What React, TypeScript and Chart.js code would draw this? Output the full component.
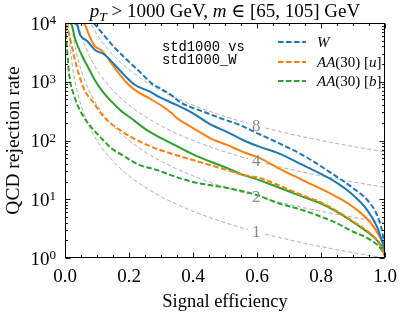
import React, { useEffect, useRef } from "react";
import { Chart, registerables } from "chart.js";

Chart.register(...registerables);

// ---- data (signal efficiency, QCD rejection) ----
const wDashEff = [0.09, 0.116, 0.147, 0.1875, 0.231, 0.272, 0.303, 0.334, 0.359, 0.4, 0.444, 0.484, 0.547, 0.6, 0.666, 0.744, 0.85, 0.9, 0.953, 0.975, 0.99, 1.0];
const wDashRej = [10000, 6760, 4250, 2530, 1520, 930, 740, 580, 452, 357, 294, 241, 183, 134, 91, 56, 24, 15.5, 8.6, 5.4, 3.0, 1.5];

const wSolidEff = [0.025, 0.0375, 0.047, 0.069, 0.094, 0.125, 0.156, 0.1875, 0.219, 0.2625, 0.297, 0.35, 0.4, 0.453, 0.506, 0.556, 0.609, 0.666, 0.744, 0.85, 0.9, 0.944, 0.975, 0.99, 1.0];
const wSolidRej = [10000, 9300, 6300, 4950, 3470, 2850, 1930, 1260, 880, 690, 540, 400, 290, 190, 140, 102, 78, 61, 38, 19, 11.8, 6.6, 3.4, 2.0, 1.37];

const uSolidEff = [0.056, 0.0625, 0.075, 0.09, 0.116, 0.14, 0.1625, 0.1875, 0.219, 0.2625, 0.303, 0.334, 0.35, 0.4, 0.453, 0.506, 0.556, 0.609, 0.666, 0.744, 0.85, 0.9, 0.953, 0.984, 1.0];
const uSolidRej = [10000, 9300, 6300, 4250, 3330, 2240, 1520, 1030, 720, 525, 387, 290, 240, 163, 110, 84, 64, 50, 34, 21, 10.9, 7.4, 4.1, 2.3, 1.5];

const uDashEff = [0.003, 0.009, 0.022, 0.031, 0.044, 0.0625, 0.09, 0.116, 0.131, 0.172, 0.2125, 0.256, 0.297, 0.4, 0.506, 0.556, 0.609, 0.666, 0.744, 0.797, 0.85, 0.9, 0.944, 0.975, 1.0];
const uDashRej = [10000, 7600, 3900, 2350, 1300, 695, 435, 272, 224, 150, 110, 84, 69, 46.5, 31.5, 26, 23, 17.5, 11.5, 9, 6.3, 4.2, 2.9, 2.0, 1.1];

const bSolidEff = [0.016, 0.022, 0.031, 0.053, 0.075, 0.094, 0.116, 0.147, 0.178, 0.209, 0.225, 0.256, 0.297, 0.35, 0.4, 0.453, 0.506, 0.556, 0.609, 0.666, 0.744, 0.797, 0.85, 0.9, 0.944, 0.975, 0.994, 1.0];
const bSolidRej = [10000, 9000, 5500, 2800, 1650, 1050, 700, 450, 310, 235, 200, 150, 112, 80, 58, 44, 34, 26, 21, 16, 11, 8.6, 6.1, 4.1, 2.8, 2.0, 1.4, 1.05];

const bDashEff = [0.001, 0.004, 0.0125, 0.031, 0.053, 0.084, 0.116, 0.147, 0.178, 0.194, 0.234, 0.2875, 0.328, 0.4, 0.506, 0.6, 0.666, 0.744, 0.85, 0.9, 0.944, 0.984, 1.0];
const bDashRej = [9000, 5500, 1410, 530, 283, 163, 106, 72, 57, 50, 38, 31.5, 26, 19.7, 15.6, 11.8, 8.6, 6.5, 3.9, 2.8, 2.2, 1.5, 1.1];

// iso-significance guides: rejection = (factor / efficiency)^2
const guideFactors = [1, 2, 4, 8];
const guideLabels = ["1", "2", "4", "8"];
const guideLabelEff = 0.598;
const guideGap = [0.572, 0.626];

// axis ticks and labels
const xMajor = [0, 0.2, 0.4, 0.6, 0.8, 1.0];
const xTickLabels = ["0.0", "0.2", "0.4", "0.6", "0.8", "1.0"];
const yDecades = [1, 10, 100, 1000, 10000];
const yExponents = ["0", "1", "2", "3", "4"];

const BLUE = "#1f77b4";
const ORANGE = "#ff7f0e";
const GREEN = "#2ca02c";
const GRAY = "rgba(120,120,120,0.8)";
const SERIF = '"Liberation Serif", "DejaVu Serif", serif';
const MONO = '"Liberation Mono", "DejaVu Sans Mono", monospace';
const DASH = [5.5, 2.5];

const pts = (xs: number[], ys: number[]) => xs.map((x, i) => ({ x, y: ys[i] }));

function guideEffSamples(): number[] {
  const s: number[] = [];
  for (let i = 1; i <= 400; i++) s.push(i / 400);
  s.push(guideGap[0], guideGap[1]);
  return Array.from(new Set(s)).sort((a, b) => a - b);
}

const decor = {
  id: "decor",
  afterDatasetsDraw(chart: any) {
    const { ctx, chartArea: a, scales } = chart;
    const x = scales.x, y = scales.y;
    ctx.save();

    // guide labels
    ctx.fillStyle = "#8a8a8a";
    ctx.font = `17px ${SERIF}`;
    ctx.textAlign = "center";
    ctx.textBaseline = "middle";
    guideFactors.forEach((k, i) => {
      const r = (k / guideLabelEff) ** 2;
      ctx.fillText(guideLabels[i], x.getPixelForValue(guideLabelEff), y.getPixelForValue(r) + 1);
    });

    // frame
    ctx.strokeStyle = "#000";
    ctx.lineWidth = 1;
    const L = Math.round(a.left) + 0.5, R = Math.round(a.right) - 0.5;
    const T = Math.round(a.top) + 0.5, B = Math.round(a.bottom) - 0.5;
    ctx.strokeRect(L, T, R - L, B - T);

    // ticks (inward, all sides)
    ctx.lineWidth = 0.9;
    ctx.beginPath();
    for (let i = 0; i <= 20; i++) {
      const v = i * 0.05;
      const major = i % 4 === 0;
      const len = major ? 5 : 2.5;
      const px = Math.round(x.getPixelForValue(v)) + 0.5;
      ctx.moveTo(px, B); ctx.lineTo(px, B - len);
      ctx.moveTo(px, T); ctx.lineTo(px, T + len);
    }
    for (let d = 0; d < 4; d++) {
      for (let m = 1; m <= 9; m++) {
        const v = m * 10 ** d;
        const len = m === 1 ? 5 : 2.5;
        const py = Math.round(y.getPixelForValue(v)) + 0.5;
        ctx.moveTo(L, py); ctx.lineTo(L + len, py);
        ctx.moveTo(R, py); ctx.lineTo(R - len, py);
      }
    }
    {
      const py = Math.round(y.getPixelForValue(10000)) + 0.5;
      ctx.moveTo(L, py); ctx.lineTo(L + 5, py);
      ctx.moveTo(R, py); ctx.lineTo(R - 5, py);
    }
    ctx.stroke();

    // x tick labels
    ctx.fillStyle = "#000";
    ctx.font = `19px ${SERIF}`;
    ctx.textAlign = "center";
    ctx.textBaseline = "alphabetic";
    xMajor.forEach((v, i) => ctx.fillText(xTickLabels[i], x.getPixelForValue(v), a.bottom + 24));

    // y tick labels 10^n
    yDecades.forEach((v, i) => {
      const py = y.getPixelForValue(v);
      ctx.font = `13px ${SERIF}`;
      const we = ctx.measureText(yExponents[i]).width;
      ctx.font = `19px ${SERIF}`;
      const wb = ctx.measureText("10").width;
      const right = a.left - 9;
      ctx.textAlign = "left";
      ctx.fillText("10", right - we - wb, py + 6.5);
      ctx.font = `13px ${SERIF}`;
      ctx.fillText(yExponents[i], right - we, py + 1);
    });

    // axis titles
    ctx.font = `18.5px ${SERIF}`;
    ctx.textAlign = "center";
    ctx.fillText("Signal efficiency", (a.left + a.right) / 2, 307);
    ctx.save();
    ctx.translate(19, (a.top + a.bottom) / 2);
    ctx.rotate(-Math.PI / 2);
    ctx.font = `19.5px ${SERIF}`;
    ctx.fillText("QCD rejection rate", 0, 0);
    ctx.restore();

    // title with mixed styles
    const parts: [string, string, number][] = [
      ["p", `italic 19px ${SERIF}`, 0],
      ["T", `italic 13.5px ${SERIF}`, 4],
      [" > 1000 GeV, ", `19px ${SERIF}`, 0],
      ["m", `italic 19px ${SERIF}`, 0],
      [" \u2208 [65, 105] GeV", `19px ${SERIF}`, 0],
    ];
    let tw = 0;
    parts.forEach(([s, f]) => { ctx.font = f; tw += ctx.measureText(s).width; });
    let tx = (a.left + a.right) / 2 - tw / 2;
    ctx.textAlign = "left";
    parts.forEach(([s, f, dy]) => {
      ctx.font = f;
      ctx.fillText(s, tx, 17 + dy);
      tx += ctx.measureText(s).width;
    });

    // annotation
    ctx.font = `13.8px ${MONO}`;
    ctx.fillText("std1000 vs", 162, 51);
    ctx.fillText("std1000_W", 162, 63.5);

    // legend
    const legend: [string, [string, boolean][], number][] = [
      [BLUE, [["W", true]], 42],
      [ORANGE, [["AA", true], ["(30) [", false], ["u", true], ["]", false]], 62],
      [GREEN, [["AA", true], ["(30) [", false], ["b", true], ["]", false]], 81],
    ];
    legend.forEach(([col, segs, ly]) => {
      ctx.strokeStyle = col;
      ctx.lineWidth = 2;
      ctx.setLineDash(DASH);
      ctx.beginPath();
      ctx.moveTo(278, ly); ctx.lineTo(306, ly);
      ctx.stroke();
      ctx.setLineDash([]);
      let lx = 317;
      ctx.fillStyle = "#000";
      segs.forEach(([s, it]) => {
        ctx.font = `${it ? "italic " : ""}15px ${SERIF}`;
        ctx.fillText(s, lx, ly + 5);
        lx += ctx.measureText(s).width;
      });
    });

    ctx.restore();
  },
};

export default function App() {
  const ref = useRef<HTMLCanvasElement>(null);
  useEffect(() => {
    if (!ref.current) return;
    const samples = guideEffSamples();
    const lineDs = (label: string, data: any[], color: string, dashed: boolean) => ({
      label,
      data,
      borderColor: color,
      backgroundColor: color,
      borderWidth: 2,
      borderDash: dashed ? DASH : [],
      pointRadius: 0,
      fill: false,
      cubicInterpolationMode: "monotone",
    });
    const guides = guideFactors.map((k) => ({
      label: `guide ${k}`,
      data: samples.map((e) => ({ x: e, y: (k / e) ** 2 })),
      borderColor: GRAY,
      borderWidth: 0.8,
      borderDash: [4, 2.5],
      pointRadius: 0,
      fill: false,
      tension: 0,
      segment: {
        borderColor: (c: any) =>
          c.p0.parsed.x >= guideGap[0] - 1e-9 && c.p1.parsed.x <= guideGap[1] + 1e-9 ? "rgba(0,0,0,0)" : GRAY,
      },
    }));
    const chart = new Chart(ref.current, {
      type: "line",
      data: {
        datasets: [
          lineDs("std1000_W: W", pts(wDashEff, wDashRej), BLUE, true),
          lineDs("std1000: W", pts(wSolidEff, wSolidRej), BLUE, false),
          lineDs("std1000_W: AA(30) [u]", pts(uDashEff, uDashRej), ORANGE, true),
          lineDs("std1000: AA(30) [u]", pts(uSolidEff, uSolidRej), ORANGE, false),
          lineDs("std1000_W: AA(30) [b]", pts(bDashEff, bDashRej), GREEN, true),
          lineDs("std1000: AA(30) [b]", pts(bSolidEff, bSolidRej), GREEN, false),
          ...guides,
        ] as any,
      },
      options: {
        animation: false,
        responsive: false,
        parsing: false as any,
        layout: { padding: { left: 65, right: 15, top: 23, bottom: 58 } },
        plugins: { legend: { display: false }, tooltip: { enabled: false }, title: { display: false } },
        scales: {
          x: { type: "linear", min: 0, max: 1, display: false },
          y: { type: "logarithmic", min: 1, max: 10000, display: false },
        },
      },
      plugins: [decor],
    });
    return () => chart.destroy();
  }, []);
  return (
    <div style={{ position: "fixed", left: 0, top: 0, width: 400, height: 316, background: "#fff" }}>
      <canvas ref={ref} width={400} height={316} style={{ width: 400, height: 316 }} />
    </div>
  );
}
